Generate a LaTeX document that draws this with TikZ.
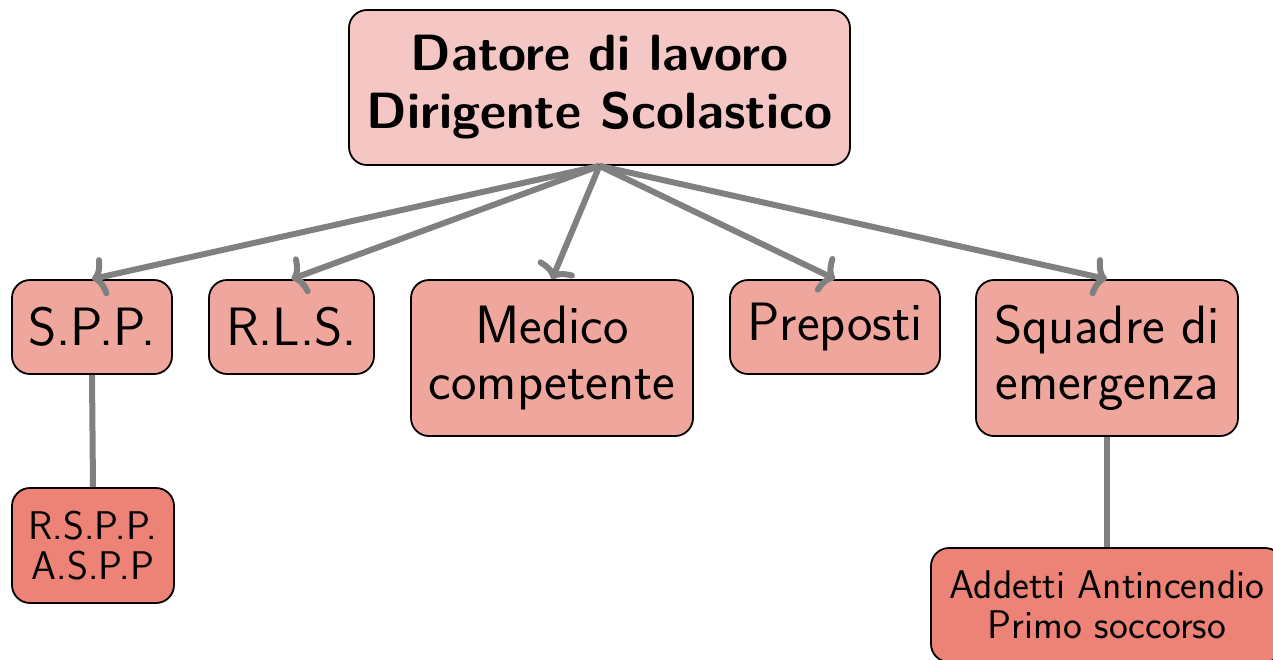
\documentclass[tikz,border=0pt]{standalone}
\usepackage{fontspec}
\usetikzlibrary{arrows.meta}
\begin{document}
\begin{tikzpicture}[x=1pt,y=-1pt,
  >={Computer Modern Rightarrow[length=14pt,width=40pt,round]},
  box/.style={draw=black, line width=1.8pt, rounded corners=18pt, align=center, inner sep=0pt,
    font=\sffamily\fontsize{54}{56}\selectfont},
  topbox/.style={box, fill=topcol, font=\sffamily\bfseries\fontsize{51}{58}\selectfont},
  midbox/.style={box, fill=midcol},
  lowbox/.style={box, fill=lowcol, font=\sffamily\fontsize{40}{40}\selectfont},
  conn/.style={draw=gray, line width=6pt},
  arr/.style={conn, ->}]
\definecolor{topcol}{RGB}{245,199,196}
\definecolor{midcol}{RGB}{239,166,156}
\definecolor{lowcol}{RGB}{236,131,118}
\useasboundingbox (0,0) rectangle (1273,659);
\node[topbox, minimum width=501pt, minimum height=155pt] (top) at (599.5,87.5) {Datore di lavoro\\Dirigente Scolastico};
\node[midbox, minimum width=160pt, minimum height=94pt] (spp) at (92,327) {S.P.P.};
\node[midbox, minimum width=165pt, minimum height=94pt] (rls) at (291.5,327) {R.L.S.};
\node[midbox, minimum width=282pt, minimum height=156pt] (med) at (552,358) {Medico\\competente};
\node[midbox, minimum width=210pt, minimum height=94pt] (prep) at (835,327) {Preposti};
\node[midbox, minimum width=262pt, minimum height=156pt] (squ) at (1107,358) {Squadre di\\emergenza};
\node[lowbox, minimum width=162pt, minimum height=115pt] (rspp) at (93,545.5) {R.S.P.P.\\A.S.P.P};
\node[lowbox, minimum width=352pt, minimum height=114pt] (add) at (1107,605) {Addetti Antincendio\\Primo soccorso};
\draw[arr] (top.south) -- (spp.north);
\draw[arr] (top.south) -- (rls.north);
\draw[arr] (top.south) -- (med.north);
\draw[arr] (top.south) -- (prep.north);
\draw[arr] (top.south) -- (squ.north);
\draw[conn] (spp.south) -- (rspp.north);
\draw[conn] (squ.south) -- (add.north);
\end{tikzpicture}
\end{document}
